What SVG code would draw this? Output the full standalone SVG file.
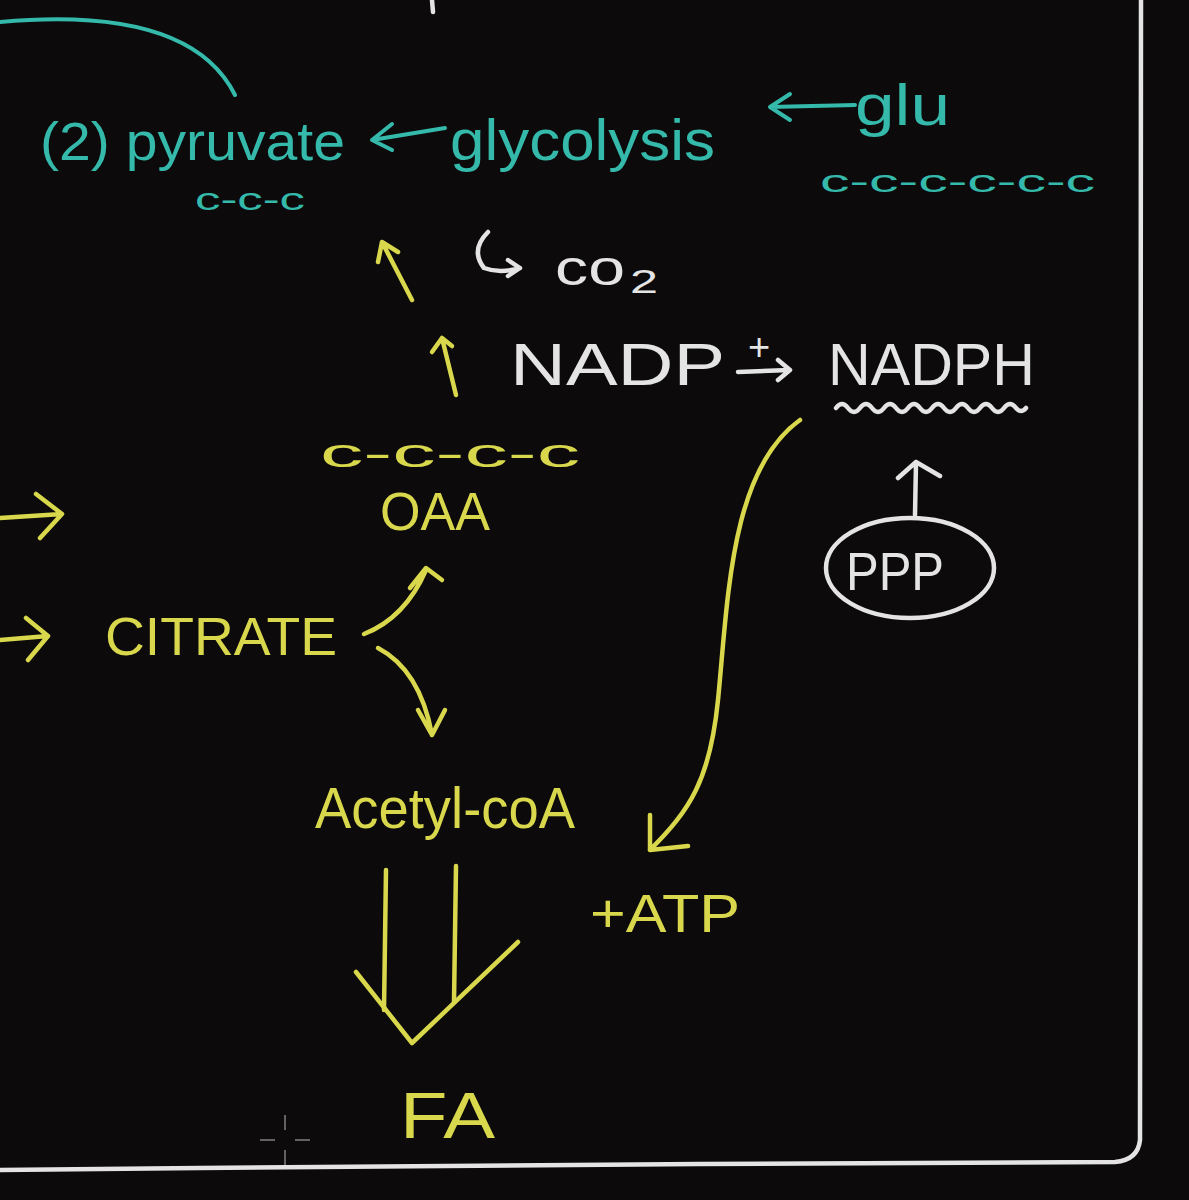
<svg xmlns="http://www.w3.org/2000/svg" width="1189" height="1200" viewBox="0 0 1189 1200">
<style>
  .t{font-family:"Liberation Sans","DejaVu Sans",sans-serif;}
  .teal{fill:#34b9aa;}
  .yel{fill:#d9d84c;}
  .wht{fill:#e4e4e4;}
  .sTeal{stroke:#34b9aa;fill:none;stroke-width:4;stroke-linecap:round;stroke-linejoin:round;}
  .sYel{stroke:#d9d84c;fill:none;stroke-width:4.5;stroke-linecap:round;stroke-linejoin:round;}
  .sWht{stroke:#e4e4e4;fill:none;stroke-width:4.5;stroke-linecap:round;stroke-linejoin:round;}
</style>
<rect width="1189" height="1200" fill="#0c0a0b"/>
<!-- frame -->
<path class="sWht" d="M1141,0 L1140,1140 Q1138,1160 1115,1162 L700,1164 L200,1168 L0,1170" stroke-width="5"/>
<path class="sTeal" d="M0,22 Q190,5 235,95"/>
<path class="sWht" d="M432,0 L433,12" stroke-width="3"/>
<!-- cursor -->
<g stroke="#888" stroke-width="2" opacity="0.7">
  <path d="M285,1115 L285,1130 M285,1150 L285,1165 M260,1140 L275,1140 M295,1140 L310,1140"/>
</g>

<g id="pyruvate"><text class="t teal" x="40" y="160" font-size="54" textLength="305" lengthAdjust="spacingAndGlyphs">(2) pyruvate</text>
<text class="t teal" x="195" y="210" font-size="32" textLength="110" lengthAdjust="spacingAndGlyphs">c-c-c</text></g>
<g id="glycolysis"><text class="t teal" x="450" y="160" font-size="58" textLength="265" lengthAdjust="spacingAndGlyphs">glycolysis</text></g>
<g id="glu"><text class="t teal" x="855" y="125" font-size="58" textLength="95" lengthAdjust="spacingAndGlyphs">glu</text>
<text class="t teal" x="820" y="192" font-size="32" textLength="275" lengthAdjust="spacingAndGlyphs">c-c-c-c-c-c</text></g>

<g id="co2"><text class="t wht" x="555" y="285" font-size="50" textLength="70" lengthAdjust="spacingAndGlyphs">co</text>
<text class="t wht" x="630" y="293" font-size="34" textLength="28" lengthAdjust="spacingAndGlyphs">2</text></g>
<g id="nadp"><text class="t wht" x="510" y="385" font-size="60" textLength="215" lengthAdjust="spacingAndGlyphs">NADP</text>
<text class="t wht" x="748" y="360" font-size="38">+</text></g>
<g id="nadph"><text class="t wht" x="828" y="385" font-size="60" textLength="207" lengthAdjust="spacingAndGlyphs">NADPH</text>
<path class="sWht" stroke-width="3.5" d="M836,408 q6,-8 12,0 q6,8 12,0 q6,-8 12,0 q6,8 12,0 q6,-8 12,0 q6,8 12,0 q6,-8 12,0 q6,8 12,0 q6,-8 12,0 q6,8 12,0 q6,-8 12,0 q6,8 12,0 q6,-8 12,0 q6,8 12,0 q6,-8 12,0 q5,6 10,0"/></g>
<g id="ppp"><ellipse cx="910" cy="568" rx="84" ry="50" class="sWht" stroke-width="4"/>
<text class="t wht" x="846" y="590" font-size="54" textLength="98" lengthAdjust="spacingAndGlyphs">PPP</text></g>

<g id="oaa"><text class="t yel" x="320" y="467" font-size="40" textLength="260" lengthAdjust="spacingAndGlyphs">c-c-c-c</text>
<text class="t yel" x="380" y="530" font-size="54" textLength="110" lengthAdjust="spacingAndGlyphs">OAA</text></g>
<g id="citrate"><text class="t yel" x="105" y="655" font-size="54" textLength="232" lengthAdjust="spacingAndGlyphs">CITRATE</text></g>
<g id="acetylcoa"><text class="t yel" x="315" y="828" font-size="58" textLength="260" lengthAdjust="spacingAndGlyphs">Acetyl-coA</text></g>
<g id="atp"><text class="t yel" x="590" y="932" font-size="54" textLength="150" lengthAdjust="spacingAndGlyphs">+ATP</text></g>
<g id="fa"><text class="t yel" x="400" y="1138" font-size="64" textLength="95" lengthAdjust="spacingAndGlyphs">FA</text></g>

<g id="connectors">
  <!-- teal arrows -->
  <path class="sTeal" d="M445,128 L372,140 M392,124 L372,140 L392,150"/>
  <path class="sTeal" d="M855,105 L770,107 M790,94 L770,107 L790,120"/>
  <!-- yellow up arrows -->
  <path class="sYel" d="M412,300 L382,242 M378,262 L382,242 L398,252"/>
  <path class="sYel" d="M456,395 L442,338 M432,352 L442,338 L452,346"/>
  <!-- CO2 hook -->
  <path class="sWht" d="M488,232 Q470,250 484,268 Q500,274 520,268 M508,260 L520,268 L508,276"/>
  <!-- NADP+ to NADPH -->
  <path class="sWht" d="M738,372 L790,370 M778,360 L790,370 L778,380"/>
  <!-- PPP up -->
  <path class="sWht" d="M915,515 L916,462 M898,478 L916,462 L940,476"/>
  <!-- NADPH to ATP -->
  <path class="sYel" d="M800,420 C730,470 728,600 718,700 C710,780 690,810 650,850 M650,815 L650,850 L688,846"/>
  <!-- left arrows -->
  <path class="sYel" d="M0,518 L62,514 M36,494 L62,514 L40,538"/>
  <path class="sYel" d="M0,640 L48,636 M26,618 L48,636 L28,660"/>
  <!-- citrate to OAA -->
  <path class="sYel" d="M364,634 Q405,618 426,570 M410,588 L426,568 L442,580"/>
  <!-- citrate to acetyl-coA -->
  <path class="sYel" d="M378,648 Q420,670 432,735 M418,710 L432,735 L445,710"/>
  <!-- double arrow to FA -->
  <path class="sYel" d="M386,870 L384,1010 M456,866 L454,1002"/>
  <path class="sYel" d="M356,972 L412,1043 L518,942"/>
</g>
</svg>
